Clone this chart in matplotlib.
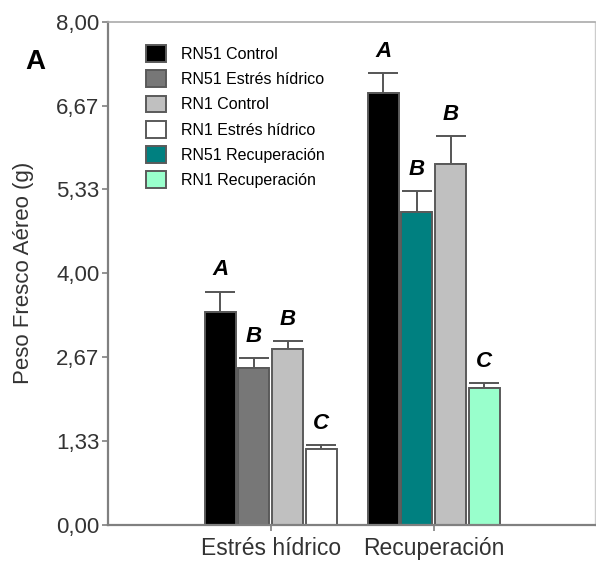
import numpy as np
import matplotlib.pyplot as plt
from matplotlib.patches import Patch

plt.rcParams['font.family'] = ['Liberation Sans', 'DejaVu Sans']

# Datos
grupos = ['Estrés hídrico', 'Recuperación']
series = ['RN51 Control', 'RN51 Estrés hídrico', 'RN1 Control', 'RN1 Estrés hídrico',
          'RN51 Recuperación', 'RN1 Recuperación']
colores_serie = ['#000000', '#777777', '#c0c0c0', '#ffffff', '#008080', '#99ffcc']

# valores por posición de barra dentro de cada grupo
valores_estres = [3.38, 2.49, 2.79, 1.21]
error_estres = [0.33, 0.17, 0.14, 0.06]
letras_estres = ['A', 'B', 'B', 'C']
colores_estres = ['#000000', '#777777', '#c0c0c0', '#ffffff']

valores_recup = [6.87, 4.97, 5.74, 2.18]
error_recup = [0.32, 0.34, 0.44, 0.07]
letras_recup = ['A', 'B', 'B', 'C']
colores_recup = ['#000000', '#008080', '#c0c0c0', '#99ffcc']

yticks = [0, 8/6, 16/6, 4, 32/6, 40/6, 8]
ytick_labels = ['0,00', '1,33', '2,67', '4,00', '5,33', '6,67', '8,00']

fig = plt.figure(figsize=(5.96, 5.63), dpi=100)
ax = fig.add_axes([0.181, 0.0675, 0.817, 0.894])

offsets = np.array([-0.31, -0.105, 0.105, 0.31])
ancho = 0.19
borde = '#5a5a5a'

datos = [(valores_estres, error_estres, letras_estres, colores_estres),
         (valores_recup, error_recup, letras_recup, colores_recup)]

for i, (vals, errs, letras, cols) in enumerate(datos):
    xs = i + offsets
    ax.bar(xs, vals, width=ancho, color=cols, edgecolor=borde, linewidth=1.4, zorder=2)
    ax.errorbar(xs, vals, yerr=[np.zeros(4), errs], fmt='none', ecolor='#555555',
                elinewidth=1.4, capsize=11, capthick=1.4, zorder=1)
    for x, v, e, l in zip(xs, vals, errs, letras):
        ax.annotate(l, (x, v + e), xytext=(0, 8), textcoords='offset points',
                    ha='center', va='bottom', fontsize=16, fontweight='bold',
                    fontstyle='italic')

ax.set_xlim(-1.0, 1.988)
ax.set_ylim(0, 8)
ax.set_xticks([0, 1])
ax.set_xticklabels(grupos, fontsize=16.5)
ax.set_yticks(yticks)
ax.set_yticklabels(ytick_labels, fontsize=16, color='#333333')
ax.tick_params(axis='both', direction='out', length=4, color='#808080', width=1.2)
ax.tick_params(axis='x', pad=5)
ax.tick_params(axis='y', pad=2)
for t in ax.get_xticklabels():
    t.set_color('#333333')

for lado in ['left', 'bottom']:
    ax.spines[lado].set_color('#808080')
    ax.spines[lado].set_linewidth(1.6)
ax.spines['top'].set_color('#aaaaaa')
ax.spines['top'].set_linewidth(1.2)
ax.spines['right'].set_color('#cccccc')
ax.spines['right'].set_linewidth(1.0)

ax.set_ylabel('Peso Fresco Aéreo (g)', fontsize=16, color='#333333', labelpad=16)

handles = [Patch(facecolor=c, edgecolor=borde, linewidth=1.4) for c in colores_serie]
ax.legend(handles, series, loc='upper left', bbox_to_anchor=(0.066, 0.966),
          frameon=False, fontsize=11.5, handlelength=1.25, handleheight=1.25,
          labelspacing=0.52, handletextpad=0.9, borderaxespad=0)

fig.text(0.06, 0.89, 'A', fontsize=20, fontweight='bold', ha='center', va='center')

fig.savefig('out.png', dpi=100)
